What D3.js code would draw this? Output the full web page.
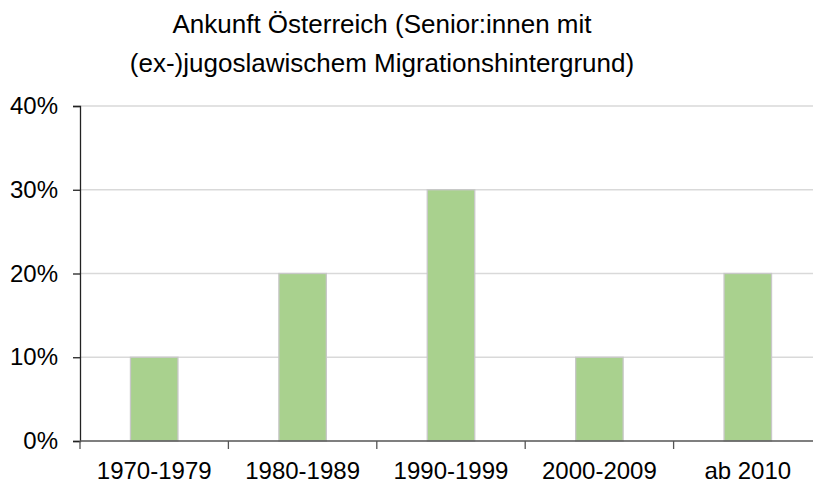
<!DOCTYPE html>
<html><head><meta charset="utf-8">
<script src="https://cdn.jsdelivr.net/npm/d3@7"></script>
<style>body{margin:0;background:#fff}svg{display:block}text{font-family:"Liberation Sans",Arial,sans-serif;fill:#000}</style>
</head><body>
<svg id="c" width="813" height="484"></svg>
<script>
const categories = ["1970-1979","1980-1989","1990-1999","2000-2009","ab 2010"];
const values = [0.10, 0.20, 0.30, 0.10, 0.20];
const yTicks = [0, 0.1, 0.2, 0.3, 0.4];
const titleLines = ["Ankunft Österreich (Senior:innen mit","(ex-)jugoslawischem Migrationshintergrund)"];

const svg = d3.select("#c");
const plotLeft = 80, plotRight = 822, plotTop = 106, plotBottom = 441;
const pad = 0.68;
const x = d3.scaleBand().domain(categories).range([plotLeft, plotRight]).paddingInner(pad).paddingOuter(pad/2);
const y = d3.scaleLinear().domain([0, 0.4]).range([plotBottom, plotTop]);

// gridlines
svg.append("g").selectAll("line").data(yTicks.filter(d=>d>0)).join("line")
  .attr("x1", plotLeft).attr("x2", 813).attr("y1", d=>y(d)).attr("y2", d=>y(d))
  .attr("stroke", "#d9d9d9").attr("stroke-width", 1.5);

// bars
svg.append("g").selectAll("rect").data(values).join("rect")
  .attr("x", (d,i)=>x(categories[i])).attr("width", x.bandwidth())
  .attr("y", d=>y(d)).attr("height", d=>y(0)-y(d))
  .attr("fill", "#a9d18e").attr("stroke", "#c8c8c8").attr("stroke-width", 1.3);

// y axis
const yAxis = d3.axisLeft(y).tickValues(yTicks).tickFormat(d3.format(".0%")).tickSize(7).tickPadding(15);
const gy = svg.append("g").attr("transform", `translate(${plotLeft},0)`).call(yAxis);
gy.select(".domain").attr("stroke", "#222").attr("stroke-width", 1.3);
gy.selectAll(".tick line").attr("stroke", "#222").attr("stroke-width", 1.3);
gy.selectAll("text").attr("font-size", 24).attr("font-family", "Liberation Sans, Arial, sans-serif").attr("fill", "#000");

// x axis
const gx = svg.append("g").attr("transform", `translate(0,${plotBottom})`);
gx.append("line").attr("x1", plotLeft).attr("x2", 813).attr("stroke", "#555").attr("stroke-width", 1.3);
const bounds = d3.range(categories.length + 1).map(i => plotLeft + i * x.step());
gx.selectAll(".bt").data(bounds).join("line").attr("class","bt")
  .attr("x1", d=>d).attr("x2", d=>d).attr("y1", 0).attr("y2", 8)
  .attr("stroke", "#555").attr("stroke-width", 1.3);
gx.selectAll("text").data(categories).join("text")
  .attr("x", d=>x(d) + x.bandwidth()/2).attr("y", 38)
  .attr("text-anchor", "middle").attr("font-size", 24).text(d=>d);

// title
svg.append("g").selectAll("text").data(titleLines).join("text")
  .attr("x", 382).attr("y", (d,i)=>33 + i*39).attr("text-anchor", "middle")
  .attr("font-size", 26).text(d=>d);
</script>
</body></html>
